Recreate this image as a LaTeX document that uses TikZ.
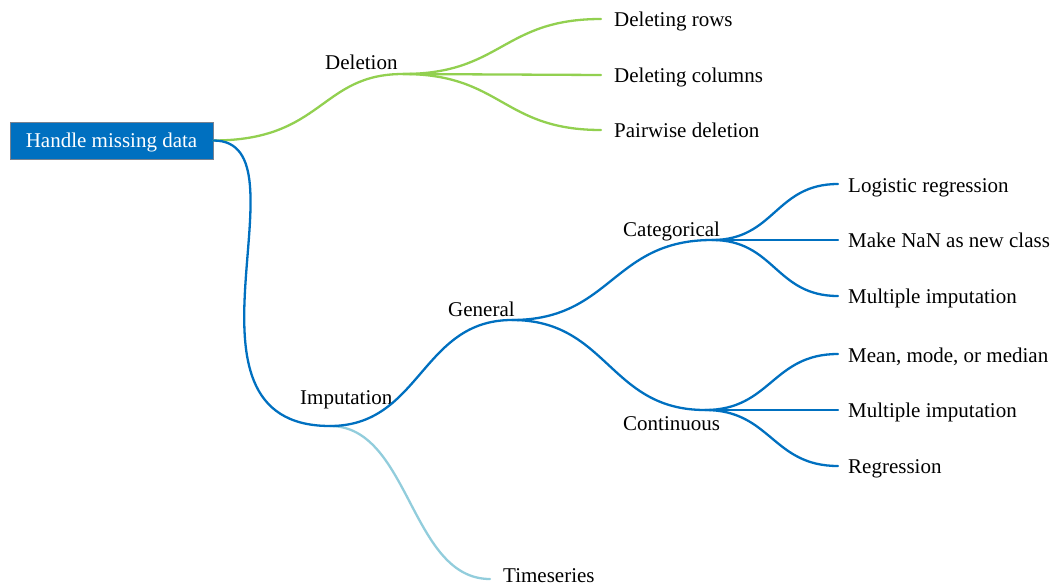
\documentclass[tikz,border=0pt]{standalone}
\usepackage{fontspec}
\setmainfont{Liberation Serif}
\definecolor{mmblue}{RGB}{0,112,192}
\definecolor{mmgreen}{RGB}{146,208,80}
\definecolor{mmsky}{RGB}{146,205,220}
\definecolor{mmframe}{RGB}{120,130,145}
\begin{document}
\begin{tikzpicture}[x=1pt,y=-1pt,
  font=\fontsize{21}{25}\selectfont,
  branch/.style={line width=2.3pt, line cap=round},
  topic/.style={anchor=base west, inner sep=0pt},
  rootbox/.style={fill=mmblue, draw=mmframe, line width=0.8pt, text=white,
    minimum width=203pt, minimum height=37pt, inner sep=0pt,
    text height=13pt, text depth=0pt}]
\useasboundingbox (0,0) rectangle (1054,586);

% central topic
\node[rootbox] (root) at (111.5,140.5) {Handle missing data};

% branch points
\coordinate (del)  at (403,74);
\coordinate (imp)  at (330,426);
\coordinate (gen)  at (512,320);
\coordinate (cat)  at (712,240);
\coordinate (cont) at (705,410);
\coordinate (time) at (490,579);
\coordinate (d1) at (601,19);
\coordinate (d2) at (601,75);
\coordinate (d3) at (601,130);
\coordinate (c1) at (838,184);
\coordinate (c2) at (838,240);
\coordinate (c3) at (838,296);
\coordinate (n1) at (838,354);
\coordinate (n2) at (838,410);
\coordinate (n3) at (838,466);

% labels
\node[topic] (tdel)  at (325,69.5)  {Deletion};
\node[topic] (timp)  at (300,404)   {Imputation};
\node[topic] (tgen)  at (448,316)   {General};
\node[topic] (tcat)  at (623,236.5) {Categorical};
\node[topic] (tcont) at (623,430)   {Continuous};
\node[topic] (ttime) at (503,582)   {Timeseries};
\node[topic] (td1) at (614,27)  {Deleting rows};
\node[topic] (td2) at (614,82)  {Deleting columns};
\node[topic] (td3) at (614,137) {Pairwise deletion};
\node[topic] (tc1) at (848,192) {Logistic regression};
\node[topic] (tc2) at (848,247.5) {Make NaN as new class};
\node[topic] (tc3) at (848,303) {Multiple imputation};
\node[topic] (tn1) at (848,362) {Mean, mode, or median};
\node[topic] (tn2) at (848,417.5) {Multiple imputation};
\node[topic] (tn3) at (848,473) {Regression};

% deletion branch
\begin{scope}[branch, draw=mmgreen]
  \draw (root.east) .. controls +(110,0) and +(-83,0) .. (del);
  \draw (del) .. controls +(99,0) and +(-99,0) .. (d1);
  \draw (del) -- (d2);
  \draw (del) .. controls +(99,0) and +(-99,0) .. (d3);
\end{scope}

% timeseries branch
\draw[branch, draw=mmsky] (imp) .. controls +(80,0) and +(-80,0) .. (time);

% imputation branch
\begin{scope}[branch, draw=mmblue]
  \draw (root.east) .. controls +(100,0) and +(-170,0) .. (imp);
  \draw (imp) .. controls +(91,0) and +(-91,0) .. (gen);
  \draw (gen) .. controls +(100,0) and +(-100,0) .. (cat);
  \draw (gen) .. controls +(96,0) and +(-96,0) .. (cont);
  \draw (cat) .. controls +(63,0) and +(-63,0) .. (c1);
  \draw (cat) -- (c2);
  \draw (cat) .. controls +(63,0) and +(-63,0) .. (c3);
  \draw (cont) .. controls +(66,0) and +(-66,0) .. (n1);
  \draw (cont) -- (n2);
  \draw (cont) .. controls +(66,0) and +(-66,0) .. (n3);
\end{scope}
\end{tikzpicture}
\end{document}
